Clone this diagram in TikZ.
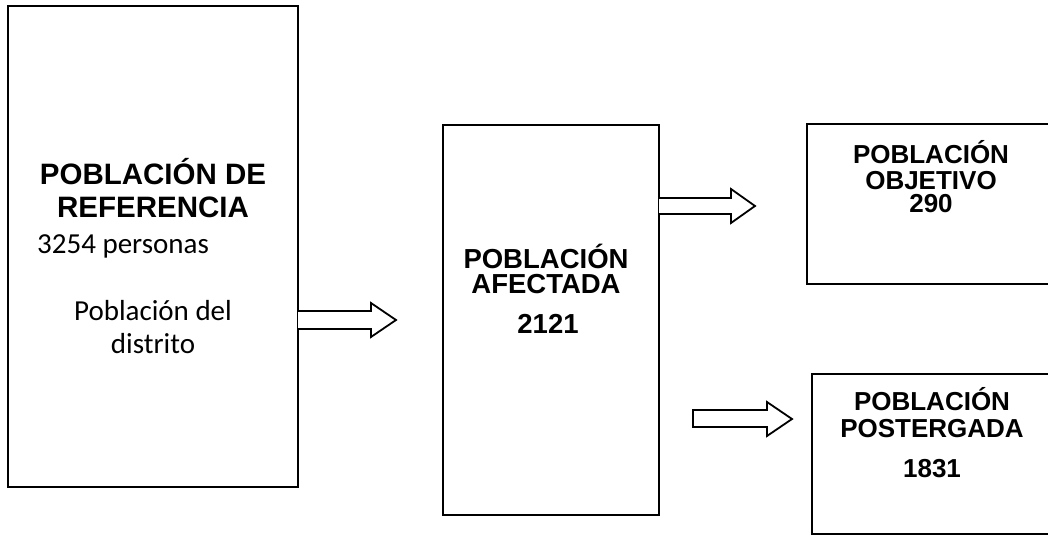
\documentclass[tikz,border=0pt]{standalone}
\usepackage{fontspec}
\setmainfont{Liberation Sans}
\newfontfamily\calib{Carlito}
\begin{document}
\begin{tikzpicture}[x=1pt,y=-1pt,
  box/.style={draw=black,line width=1.3pt,inner sep=0pt},
  blockarrow/.style={draw=black,line width=1.8pt,fill=white,line join=miter},
  hA/.style={font=\fontsize{29.5}{30}\selectfont\bfseries,anchor=base,inner sep=0pt},
  hB/.style={font=\fontsize{27.5}{28}\selectfont\bfseries,anchor=base,inner sep=0pt},
  hC/.style={font=\fontsize{26}{27}\selectfont\bfseries,anchor=base,inner sep=0pt},
  cal/.style={font=\calib\fontsize{29}{30}\selectfont,inner sep=0pt}]
\useasboundingbox (0,0) rectangle (1048,537);
% boxes
\draw[box] (8,6) rectangle (298,487); \coordinate (ref) at (298,320);
\draw[box] (443,125) rectangle (659,515);
\draw[box] (807,124) rectangle (1070,284);
\draw[box] (812,374) rectangle (1070,534);
% texts box 1
\node[hA] (t1a) at (153,185) {POBLACIÓN DE};
\node[hA] (t1b) at (153,218) {REFERENCIA};
\node[cal,anchor=base west] (t1c) at (37,253) {3254 personas};
\node[cal,anchor=base] (t1d) at (153,320) {Población del};
\node[cal,anchor=base] (t1e) at (153,353) {distrito};
% box 2
\node[hB] (t2a) at (546,268) {POBLACIÓN};
\node[hB] (t2b) at (546,293) {AFECTADA};
\node[hB] (t2c) at (548,333) {2121};
% box 3
\node[hC] (t3a) at (931,164) {POBLACIÓN};
\node[hC] (t3b) at (931,190) {OBJETIVO};
\node[hC] (t3c) at (931,213) {290};
% box 4
\node[hC] (t4a) at (932,410) {POBLACIÓN};
\node[hC] (t4b) at (932,437) {POSTERGADA};
\node[hC] (t4c) at (932,477) {1831};
% block arrows
\draw[blockarrow] (298,311) -- (371,311) -- (371,303) -- (396,320) -- (371,337) -- (371,329) -- (298,329);
\draw[blockarrow] (659,198) -- (731,198) -- (731,189) -- (755,206) -- (731,223) -- (731,214) -- (659,214);
\draw[blockarrow] (693,410) -- (767,410) -- (767,402) -- (792,419) -- (767,436) -- (767,427) -- (693,427) -- cycle;
\end{tikzpicture}
\end{document}
